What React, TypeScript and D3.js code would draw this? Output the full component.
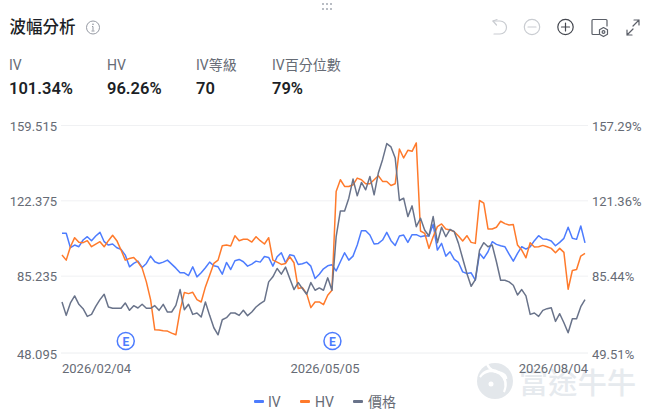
import React from "react";
import * as d3 from "d3";

const ivValues = [105.87,105.87,99.0,100.28,99.48,102.68,104.27,102.36,104.59,106.35,101.88,100.28,100.76,99.0,98.2,95.49,89.9,91.5,92.6,89.58,91.5,95.0,92.3,91.5,92.14,93.1,91.18,89.26,87.03,87.03,85.75,89.9,
85.11,87.03,89.42,92.14,90.38,89.9,86.39,91.98,88.62,92.77,93.41,92.3,90.22,91.18,92.61,92.14,94.85,94.37,90.22,94.69,96.61,91.82,95.65,95.17,91.02,91.34,92.14,90.22,84.31,86.39,88.94,90.38,
90.85,87.98,92.29,96.6,93.09,95.0,100.27,107.14,107.14,105.06,100.75,101.07,102.67,106.34,102.35,100.11,104.59,105.06,101.55,105.23,105.23,104.27,104.75,104.59,110.18,97.88,101.07,95.0,97.08,93.41,91.97,87.5,
86.71,87.02,83.51,96.29,93.89,97.09,101.88,100.6,99.96,99.48,95.97,92.61,96.29,99.48,98.36,99.48,102.36,104.75,103.15,102.99,102.2,99.96,101.56,103.47,108.74,103.47,102.99,109.38,101.34];

const hvValues = [95.49,93.09,99.48,103.79,101.56,101.4,102.36,99.48,100.76,101.88,99.48,102.36,104.91,102.36,97.88,93.09,93.89,94.37,92.14,89.26,82.71,74.25,59.87,59.72,59.4,59.24,58.28,57.48,69.14,77.6,77.12,77.76,
74.25,73.13,80.32,85.91,91.5,93.09,99.96,100.28,99.8,104.75,102.36,103.0,103.0,101.72,104.27,102.36,100.76,103.79,93.09,92.14,91.02,91.5,94.69,91.82,79.52,80.0,77.12,70.42,73.13,73.13,71.85,76.33,
78.72,125.83,131.42,128.22,128.22,129.02,132.21,131.42,129.5,129.5,131.42,133.33,130.62,130.62,128.7,129.5,146.11,141.8,145.47,144.99,148.98,106.98,105.87,98.68,104.27,109.06,110.33,107.94,107.46,106.66,104.59,102.2,
104.75,101.56,101.08,121.52,120.24,107.95,107.95,108.74,111.62,110.5,109.86,110.02,100.28,97.88,94.21,101.4,99.32,99.48,100.12,99.48,98.68,96.61,98.68,96.77,79.2,88.14,88.62,95.01,96.26];

const priceValues = [72.51,65.91,72.02,75.49,71.36,69.21,65.41,66.4,70.37,73.67,76.31,70.04,69.38,69.38,69.38,72.02,68.39,70.7,69.54,71.36,69.38,69.38,70.7,68.39,71.36,67.56,67.56,70.86,78.62,68.72,71.36,66.4,
67.07,65.09,72.51,65.91,59.8,56.34,63.76,64.76,67.07,67.07,65.91,68.39,65.75,67.56,70.04,71.69,73.01,82.42,84.9,89.03,86.22,89.69,84.07,78.62,82.09,79.12,76.31,82.09,78.29,79.45,78.29,84.4,
78.28,104.7,117.41,117.41,123.69,133.09,124.84,131.44,127.81,134.42,125.34,136.07,142.67,150.6,148.95,143.5,122.53,123.69,114.6,119.89,109.65,113.78,107.9,105.03,114.6,101.73,109.32,104.7,108.33,107.17,101.4,93.97,
86.55,80.27,83.57,98.1,101.73,99.75,100.58,92.32,83.24,83.24,82.42,80.77,75.98,78.62,75.48,66.4,67.06,65.41,68.38,69.21,69.71,62.94,66.73,62.27,57.32,64.26,64.26,70.2,73.67];

const leftTicks = [159.515, 122.375, 85.235];
const leftBottomTick = 48.095;
const rightTicks = [157.29, 121.36, 85.44];
const rightBottomTick = 49.51;
const dateLabels = ["2026/02/04", "2026/05/05", "2026/08/04"];
const earningsIdx = [15, 64];
const metrics = [
  { name: "IV", value: "101.34%" },
  { name: "HV", value: "96.26%" },
  { name: "IV等級", value: "70" },
  { name: "IV百分位數", value: "79%" },
];

const FONT = "Roboto, 'Noto Sans CJK TC', sans-serif";
const IV = "#4d7cfe";
const HV = "#ff7a2b";
const PX = "#69738a";
const TXT = "#666b75";

export default function App() {
  const x = d3.scaleLinear().domain([0, ivValues.length - 1]).range([62, 585]);
  const yR = d3.scaleLinear().domain([49.51, 157.29]).range([351.5, 125.5]);
  const yL = d3.scaleLinear().domain([48.095, 159.515]).range([351.5, 125.5]);
  const lineR = d3.line<number>().x((_, i) => x(i)).y((d) => yR(d));
  const lineL = d3.line<number>().x((_, i) => x(i)).y((d) => yL(d));
  const metricX = [9, 107, 196, 272];
  return (
    <svg width={656} height={420} style={{ position: "fixed", left: 0, top: 0, fontFamily: FONT }}>
      <rect width={656} height={420} fill="#fff" />
      <g fill="#b9bdc4">
        {[322, 326, 330].map((dx, k) =>
          [3, 8].map((dy) => <rect key={`${k}-${dy}`} x={dx} y={dy} width={2} height={2} />)
        )}
      </g>
      <text x={9.500} y={33} fontSize={16.500} fontWeight={500} fill="#1c1f26">波幅分析</text>
      <g fill="none" stroke="#8a8f98" strokeWidth={0.9}>
        <circle cx={93} cy={27.5} r={6.5} />
        <path d="M93 26.5v4M91.5 31h3M92 26.5h1" />
      </g>
      <circle cx={93} cy={24.3} r={0.8} fill="#8a8f98" />
      {metrics.map((m, i) => (
        <g key={m.name}>
          <text x={metricX[i]} y={70} fontSize={14} fill={TXT}>{m.name}</text>
          <text x={metricX[i]} y={94} fontSize={16.500} fontWeight={600} fill="#1c1f26">{m.value}</text>
        </g>
      ))}
      <g fill="none" strokeWidth={1.2} strokeLinecap="round" strokeLinejoin="round">
        <g stroke="#c9ccd1">
          <path d="M493 21h7a6.5 6.5 0 0 1 0 13h-6" />
          <path d="M493 21l3.5 4M493 21l4-1.5" />
          <circle cx={532} cy={27} r={7.7} />
          <path d="M528 27h8" />
        </g>
        <g stroke="#44474f">
          <circle cx={565.5} cy={27} r={7.7} />
          <path d="M561.5 27h8M565.5 23v8" />
        </g>
        <g stroke="#5b5f68">
          <path d="M607 26v-5.5a1 1 0 0 0-1-1h-13a1 1 0 0 0-1 1v13a1 1 0 0 0 1 1h6" />
          <path d="M603.500 27.500l4 2.300v4.500l-4 2.300-4-2.300v-4.500z" />
          <circle cx={603.5} cy={32} r={1.4} />
          <path d="M639 20l-6 6M639 20h-5M639 20v5M627 35l6-6M627 35v-5M627 35h5" />
        </g>
      </g>
      <g>
        <circle cx={495} cy={381} r={18} fill="#e3e7eb" />
        <path d="M480 377c5-6 14-8 20-3c5 4 7 10 4 18c4-9 1-16-5-20c-7-4-15-2-19 5z" fill="#fff" stroke="#fff" strokeWidth={2} />
        <path d="M487 364c2 5 7 8 14 9c3 1 5 3 5 6" fill="none" stroke="#fff" strokeWidth={2.5} />
        <circle cx={491} cy={384} r={2.5} fill="#fff" />
        <text x={519} y={394} fontSize={29} fontWeight={500} fill="#e6eaee" textLength={117} fontFamily="'Noto Sans CJK TC', sans-serif">富途牛牛</text>
      </g>
      {rightTicks.map((t) => (
        <line key={t} x1={61} x2={588} y1={yR(t)} y2={yR(t)} stroke="#f0f1f3" strokeWidth={1} />
      ))}
      <line x1={61} x2={588} y1={353} y2={353} stroke="#eceef0" strokeWidth={1} />
      {leftTicks.map((t) => (
        <text key={t} x={57} y={yL(t) + 5} fontSize={13} textAnchor="end" fill={TXT}>{t.toFixed(3)}</text>
      ))}
      <text x={57} y={358.500} fontSize={13} textAnchor="end" fill={TXT}>{leftBottomTick.toFixed(3)}</text>
      {rightTicks.map((t) => (
        <text key={t} x={592} y={yR(t) + 5} fontSize={13} fill={TXT}>{t.toFixed(2)}%</text>
      ))}
      <text x={592} y={358.500} fontSize={13} fill={TXT}>{rightBottomTick.toFixed(2)}%</text>
      <path d={lineR(ivValues)!} fill="none" stroke={IV} strokeWidth={1.5} strokeLinejoin="round" />
      <path d={lineR(hvValues)!} fill="none" stroke={HV} strokeWidth={1.5} strokeLinejoin="round" />
      <path d={lineL(priceValues)!} fill="none" stroke={PX} strokeWidth={1.5} strokeLinejoin="round" />
      {earningsIdx.map((i) => (
        <g key={i}>
          <circle cx={x(i) + 0.5} cy={341} r={8.5} fill="#fff" stroke={IV} strokeWidth={1.5} />
          <text x={x(i) + 0.5} y={345.5} fontSize={12} fontWeight={700} textAnchor="middle" fill={IV}>E</text>
        </g>
      ))}
      <text x={62} y={372.500} fontSize={13} fill={TXT}>{dateLabels[0]}</text>
      <text x={325} y={372.500} fontSize={13} textAnchor="middle" fill={TXT}>{dateLabels[1]}</text>
      <text x={588} y={372.500} fontSize={13} textAnchor="end" fill={TXT}>{dateLabels[2]}</text>
      <rect x={254} y={400} width={10} height={3} rx={1} fill={IV} />
      <text x={268} y={407} fontSize={14} fill={TXT}>IV</text>
      <rect x={300} y={400} width={10} height={3} rx={1} fill={HV} />
      <text x={315} y={407} fontSize={14} fill={TXT}>HV</text>
      <rect x={353} y={400} width={10} height={3} rx={1} fill={PX} />
      <text x={368} y={407} fontSize={14} fill={TXT}>價格</text>
    </svg>
  );
}
